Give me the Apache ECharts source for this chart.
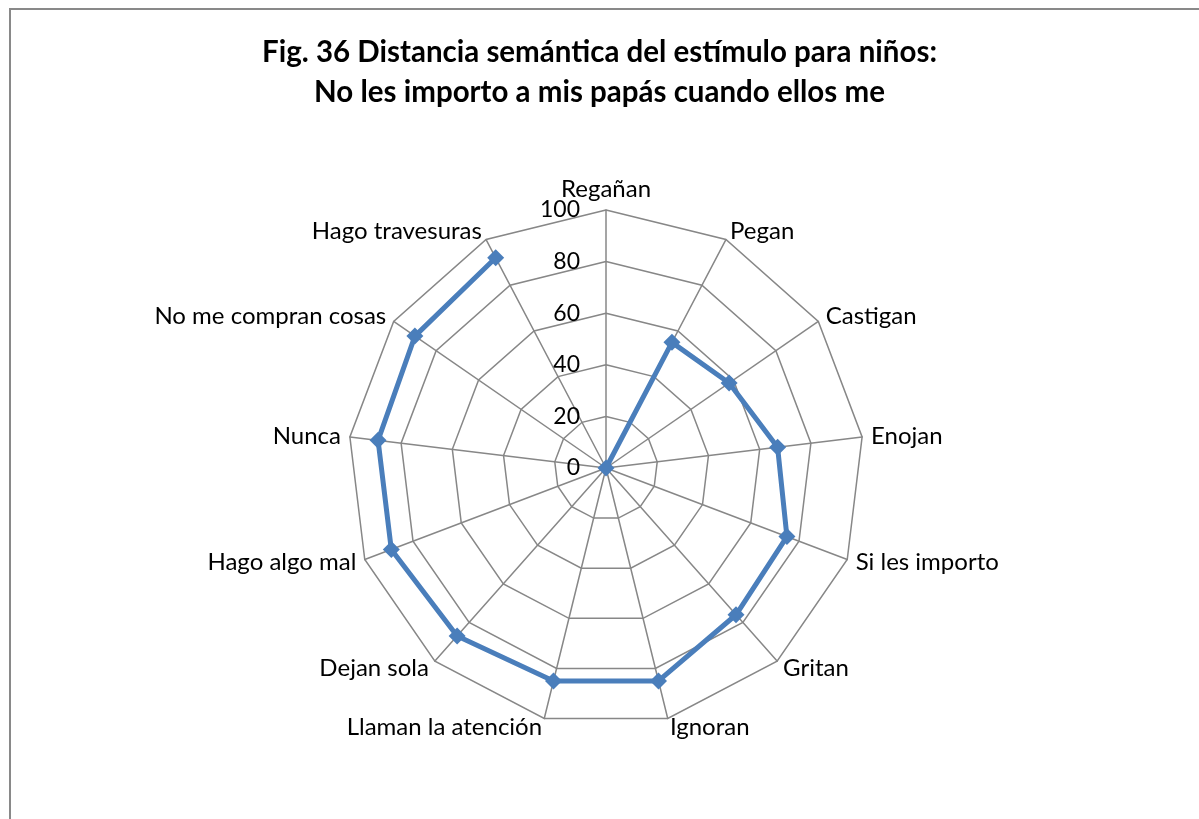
<!DOCTYPE html>
<html>
<head>
<meta charset="utf-8">
<script src="https://cdn.jsdelivr.net/npm/echarts@6/dist/echarts.min.js"></script>
<style>
  html, body { margin: 0; padding: 0; background: #fff; overflow: hidden; }
  #frame { position: absolute; left: 9px; top: 8px; width: 1300px; height: 900px; border: 2px solid #898989; box-sizing: border-box; }
  #chart { position: absolute; left: 0; top: 0; width: 1199px; height: 819px; }
</style>
</head>
<body>
<div id="frame"></div>
<div id="chart"></div>
<script>
(function () {
    // categories, clockwise from the top
    const categories = ['Regañan', 'Pegan', 'Castigan', 'Enojan', 'Si les importo', 'Gritan', 'Ignoran',
        'Llaman la atención', 'Dejan sola', 'Hago algo mal', 'Nunca', 'No me compran cosas', 'Hago travesuras']
    const values = [0, 55, 58, 67, 75, 76, 85, 85, 87, 89, 89, 90, 92]
    const tickLabels = [0, 20, 40, 60, 80, 100]

    // radar grid runs counter-clockwise, so keep the first one and flip the rest
    const order = [0].concat(categories.map((c, i) => i).slice(1).reverse())

    const font = 'Lato, "Open Sans", sans-serif'
    const gridColor = '#878787'
    const center = [606, 468]
    const radius = 258

    const chart = echarts.init(document.getElementById('chart'))
    const option = {
        backgroundColor: 'transparent',
        title: {
            text: 'Fig. 36 Distancia semántica del estímulo para niños:\nNo les importo a mis papás cuando ellos me',
            left: 'center',
            top: 27,
            textStyle: { fontFamily: font, fontSize: 29.5, fontWeight: 'bold', color: '#000', lineHeight: 40 }
        },
        // radar: polygon grid and category names
        radar: {
            center: center,
            radius: radius,
            startAngle: 90,
            shape: 'polygon',
            splitNumber: 5,
            indicator: order.map(i => ({ name: categories[i], min: 0, max: 100 })),
            axisName: { color: '#000', fontFamily: font, fontSize: 24 },
            nameGap: 9,
            axisLine: { lineStyle: { color: gridColor, width: 1.5 } },
            splitLine: { lineStyle: { color: gridColor, width: 1.5 } },
            splitArea: { show: false },
            axisTick: { show: false },
            axisLabel: { show: false }
        },
        // polar: the value scale and the open line (the series is not closed in the original)
        polar: { center: center, radius: radius },
        angleAxis: {
            type: 'category',
            data: categories,
            boundaryGap: false,
            startAngle: 90,
            clockwise: true,
            show: false
        },
        radiusAxis: {
            min: 0, max: 100, interval: 20,
            axisLine: { show: false },
            axisTick: { show: false },
            splitLine: { show: false },
            axisLabel: {
                show: true,
                color: '#000',
                fontFamily: font,
                fontSize: 23,
                margin: 26,
                verticalAlign: 'middle',
                padding: [4, 0, 0, 0],
                formatter: v => tickLabels.indexOf(v) >= 0 ? String(v) : ''
            }
        },
        series: [{
            type: 'line',
            coordinateSystem: 'polar',
            symbol: 'diamond',
            symbolSize: 17,
            showAllSymbol: true,
            data: values,
            lineStyle: { color: '#4a7ebb', width: 5 },
            itemStyle: { color: '#4a7ebb' },
            animation: false
        }]
    }
    chart.setOption(option)
})()
</script>
</body>
</html>
